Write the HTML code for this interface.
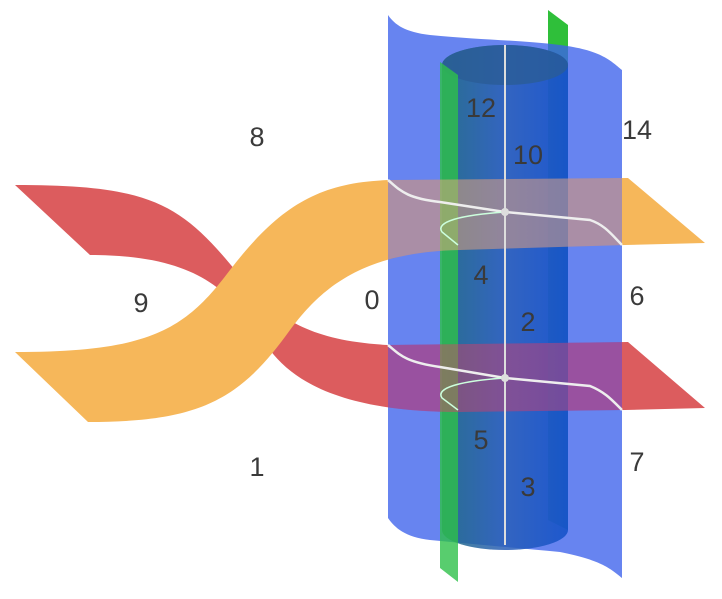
<!DOCTYPE html>
<html><head><meta charset="utf-8"><style>
html,body{margin:0;padding:0;background:#fff;}
svg{display:block;}
text{font-family:"Liberation Sans",sans-serif;font-size:27px;fill:#3a3a3a;}
</style></head><body>
<svg width="722" height="599" viewBox="0 0 722 599">
<defs>
<linearGradient id="cyl" x1="0" x2="1" y1="0" y2="0">
<stop offset="0" stop-color="#1f6a80"/><stop offset="0.5" stop-color="#2a5fb8"/><stop offset="1" stop-color="#1150c8"/>
</linearGradient>
<clipPath id="bluezone"><rect x="388" y="0" width="234" height="599"/></clipPath>
</defs>
<path fill="#dc5c5e" d="M15,185 C140,185 175,200 225,258 C265,305 290,340 388,345 L628,342 L705,408 L625,410 L460,412 C360,412 300,390 270,350 C235,300 210,255 90,255 Z"/>
<path fill="#f6b75a" d="M15,352 C150,352 185,330 230,270 C280,205 320,182 390,180 L628,178 L705,243 L625,245 L460,250 C360,252 320,290 290,330 C240,400 200,422 88,422 Z"/>
<path fill="#2fbf3a" d="M548,10 L568,25 L568,530 L548,520 Z"/>
<path fill="#3c62ec" fill-opacity="0.78" d="M388,15 C395,25 405,32 430,35 C480,40 520,40 560,45 C600,50 610,60 622,70 L622,578 C610,568 600,560 560,552 C520,548 480,545 430,540 C405,537 395,528 388,518 Z"/>
<path fill="url(#cyl)" fill-opacity="0.85" d="M442,65 A63,20 0 0 1 568,65 L568,530 A63,20 0 0 1 442,530 Z"/>
<ellipse cx="505" cy="65" rx="63" ry="20" fill="#2a5c96" fill-opacity="0.8"/>
<path fill="#2ec04a" fill-opacity="0.8" d="M440,62 L458,75 L458,582 L440,568 Z"/>
<g clip-path="url(#bluezone)">
<path fill="#e0406a" fill-opacity="0.45" d="M15,185 C140,185 175,200 225,258 C265,305 290,340 388,345 L628,342 L705,408 L625,410 L460,412 C360,412 300,390 270,350 C235,300 210,255 90,255 Z"/>
<path fill="#f0a880" fill-opacity="0.5" d="M15,352 C150,352 185,330 230,270 C280,205 320,182 390,180 L628,178 L705,243 L625,245 L460,250 C360,252 320,290 290,330 C240,400 200,422 88,422 Z"/>
</g>
<line x1="505" y1="45" x2="505" y2="545" stroke="#ddd" stroke-width="2"/>
<path fill="none" stroke="#eee" stroke-width="2.5" d="M388,180 C400,190 405,198 440,202 L505,212 L590,220 C605,225 612,235 622,245"/>
<path fill="none" stroke="#cfd" stroke-width="1.5" d="M505,212 C460,215 435,222 442,232 L458,245"/>
<path fill="none" stroke="#eee" stroke-width="2.5" d="M388,345 C400,355 405,362 440,367 L505,378 L590,386 C605,392 612,400 622,410"/>
<path fill="none" stroke="#cfd" stroke-width="1.5" d="M505,378 C460,381 435,388 442,398 L458,410"/>
<circle cx="505" cy="212" r="4" fill="#ddd"/>
<circle cx="505" cy="378" r="4" fill="#ddd"/>
<g text-anchor="middle">
<text x="257" y="146">8</text>
<text x="141" y="312">9</text>
<text x="257" y="476">1</text>
<text x="372" y="309">0</text>
<text x="481" y="117">12</text>
<text x="528" y="164">10</text>
<text x="481" y="284">4</text>
<text x="528" y="331">2</text>
<text x="481" y="449">5</text>
<text x="528" y="496">3</text>
<text x="637" y="139">14</text>
<text x="637" y="305">6</text>
<text x="637" y="471">7</text>
</g>
</svg>
</body></html>
